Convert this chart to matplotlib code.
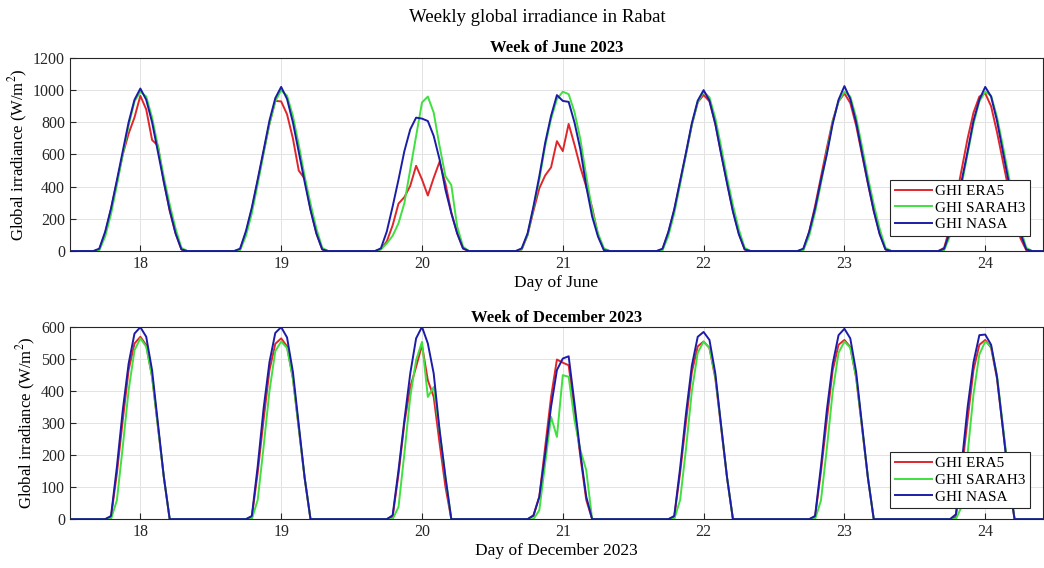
import numpy as np
import matplotlib
matplotlib.use("Agg")
import matplotlib.pyplot as plt

plt.rcParams["font.family"] = ["Liberation Serif", "DejaVu Serif"]
plt.rcParams["mathtext.fontset"] = "stix"

# days shown; hourly samples from 17.5 to ~24.42
DAYS = [18, 19, 20, 21, 22, 23, 24]
N_HOURS = 167

# June: daylight values at hour offsets -7..+7 around each day's noon (W/m2)
JUN_ERA5 = [
    [10, 110, 260, 430, 600, 730, 830, 965, 880, 690, 655, 430, 250, 110, 10],
    [10, 115, 260, 435, 615, 790, 933, 930, 850, 700, 500, 450, 260, 110, 10],
    [12, 60, 160, 295, 335, 405, 530, 445, 345, 455, 555, 420, 240, 110, 15],
    [10, 100, 250, 390, 470, 520, 683, 621, 790, 660, 520, 400, 270, 100, 10],
    [10, 115, 255, 430, 605, 785, 925, 970, 930, 790, 605, 425, 250, 110, 10],
    [10, 120, 280, 460, 640, 810, 930, 980, 920, 780, 600, 420, 250, 110, 10],
    [20, 150, 320, 510, 700, 860, 960, 980, 900, 740, 560, 380, 210, 80, 5],
]
JUN_SARAH3 = [
    [5, 90, 230, 410, 600, 780, 930, 990, 960, 830, 650, 460, 290, 140, 20],
    [5, 95, 235, 415, 605, 790, 930, 1000, 965, 840, 660, 465, 295, 140, 20],
    [10, 48, 95, 173, 298, 506, 715, 923, 960, 860, 652, 465, 410, 152, 27],
    [12, 100, 269, 444, 654, 821, 944, 990, 975, 863, 694, 465, 256, 110, 17],
    [5, 95, 235, 415, 600, 785, 925, 990, 955, 825, 645, 455, 285, 135, 20],
    [5, 95, 240, 420, 610, 800, 930, 990, 960, 830, 650, 460, 290, 140, 20],
    [5, 95, 235, 415, 605, 790, 930, 990, 965, 835, 655, 465, 295, 140, 20],
]
JUN_NASA = [
    [15, 120, 265, 440, 620, 800, 940, 1010, 940, 800, 615, 430, 255, 110, 10],
    [15, 125, 270, 445, 625, 810, 950, 1020, 945, 800, 615, 430, 255, 110, 10],
    [17, 121, 277, 444, 621, 756, 829, 823, 808, 715, 569, 381, 235, 110, 17],
    [17, 110, 277, 465, 673, 840, 969, 933, 927, 798, 631, 402, 215, 90, 6],
    [15, 120, 260, 435, 612, 795, 935, 1000, 935, 790, 600, 420, 245, 105, 10],
    [15, 120, 265, 440, 600, 790, 940, 1025, 945, 800, 610, 425, 250, 105, 10],
    [15, 120, 260, 440, 620, 810, 940, 1020, 960, 810, 620, 430, 255, 110, 10],
]

# December: daylight values at hour offsets -5..+5 around each day's noon
DEC_ERA5 = [
    [7, 143, 309, 466, 549, 570, 544, 445, 289, 132, 0],
    [7, 145, 310, 465, 548, 565, 540, 440, 285, 128, 0],
    [8, 140, 300, 413, 476, 544, 434, 382, 237, 101, 0],
    [10, 70, 226, 382, 499, 489, 481, 340, 195, 60, 0],
    [7, 145, 305, 460, 540, 555, 535, 440, 285, 128, 0],
    [7, 148, 310, 465, 545, 560, 538, 442, 287, 130, 0],
    [7, 150, 312, 466, 545, 560, 536, 440, 285, 126, 0],
]
DEC_SARAH3 = [
    [0, 59, 226, 403, 528, 565, 539, 445, 289, 132, 0],
    [0, 60, 225, 400, 525, 555, 535, 440, 285, 130, 0],
    [0, 38, 205, 382, 497, 554, 382, 413, 278, 132, 0],
    [0, 28, 174, 320, 257, 450, 445, 309, 216, 153, 0],
    [0, 60, 220, 400, 520, 555, 535, 445, 290, 130, 0],
    [0, 58, 220, 398, 520, 555, 536, 445, 290, 132, 0],
    [0, 40, 205, 390, 515, 555, 540, 450, 295, 135, 0],
]
DEC_NASA = [
    [10, 163, 340, 486, 580, 600, 570, 465, 299, 132, 0],
    [10, 165, 345, 490, 582, 600, 568, 460, 295, 130, 0],
    [12, 153, 309, 455, 565, 601, 549, 455, 278, 132, 0],
    [12, 70, 205, 351, 466, 502, 509, 361, 205, 70, 0],
    [10, 160, 330, 480, 570, 585, 560, 455, 290, 130, 0],
    [10, 165, 340, 485, 575, 595, 565, 460, 295, 130, 0],
    [15, 175, 350, 490, 575, 577, 545, 445, 285, 125, 0],
]

LABELS = ["GHI ERA5", "GHI SARAH3", "GHI NASA"]
COLORS = ["#e0262b", "#3fe03f", "#1c1ca8"]


def week_series(profiles):
    """Place each day's daylight profile on the hourly grid (night = 0)."""
    s = np.zeros(N_HOURS)
    half = len(profiles[0]) // 2
    for k, prof in enumerate(profiles):
        c = 12 + 24 * k
        s[c - half:c + half + 1] = prof
    return s


x = 17.5 + np.arange(N_HOURS) / 24

fig = plt.figure(figsize=(10.44, 5.68), dpi=100)
ax1 = fig.add_axes([0.067, 0.558, 0.932, 0.340])
ax2 = fig.add_axes([0.067, 0.086, 0.932, 0.338])

panels = [
    (ax1, [JUN_ERA5, JUN_SARAH3, JUN_NASA], "Week of June 2023", "Day of June",
     (0, 1200), np.arange(0, 1201, 200), (0.987, 0.078)),
    (ax2, [DEC_ERA5, DEC_SARAH3, DEC_NASA], "Week of December 2023", "Day of December 2023",
     (0, 600), np.arange(0, 601, 100), (0.987, 0.057)),
]

for ax, series, title, xlabel, ylim, yticks, anchor in panels:
    for prof, lab, col in zip(series, LABELS, COLORS):
        ax.plot(x, week_series(prof), color=col, lw=1.4, label=lab)
    ax.set_xlim(17.5, 24.41)
    ax.set_ylim(*ylim)
    ax.set_xticks(DAYS)
    ax.set_yticks(yticks)
    ax.grid(True, color="#e3e3e3", lw=0.7)
    ax.set_axisbelow(True)
    ax.tick_params(direction="in", labelsize=11.5, colors="#262626", length=4)
    for sp in ax.spines.values():
        sp.set_color("#262626")
        sp.set_linewidth(0.8)
    ax.set_title(title, fontsize=12, fontweight="bold", pad=4)
    ax.set_xlabel(xlabel, fontsize=12.5, labelpad=2)
    ax.set_ylabel("Global irradiance (W/m$^2$)", fontsize=12, labelpad=2)
    leg = ax.legend(loc="lower right", bbox_to_anchor=anchor, fontsize=11,
                    fancybox=False, framealpha=1, edgecolor="#262626",
                    handlelength=2.4, handletextpad=0.25, borderpad=0.3,
                    labelspacing=0.2, borderaxespad=0)
    leg.get_frame().set_linewidth(0.8)

fig.suptitle("Weekly global irradiance in Rabat", fontsize=13.5, x=0.515, y=0.985)

fig.savefig("out.png", dpi=100)
